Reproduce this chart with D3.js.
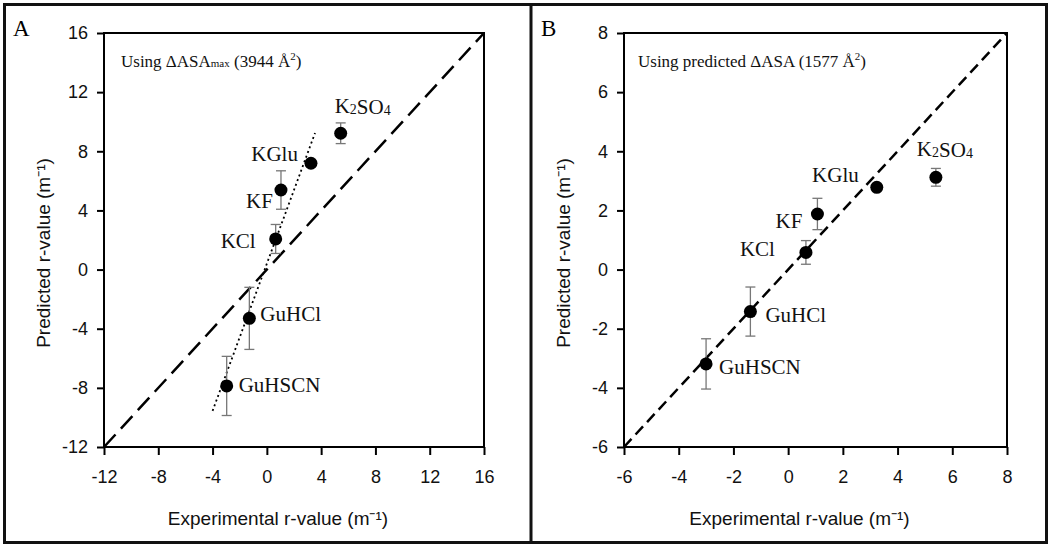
<!DOCTYPE html>
<html>
<head>
<meta charset="utf-8">
<script src="https://cdn.jsdelivr.net/npm/d3@7"></script>
<style>
  html, body { margin: 0; padding: 0; background: #fff; }
  svg { display: block; }
</style>
</head>
<body>
<svg id="chart" width="1050" height="546"></svg>
<script>
// ---------- data ----------
const salts = ["K2SO4", "KGlu", "KF", "KCl", "GuHCl", "GuHSCN"];
// Panel A: Using ΔASAmax (3944 Å²)
const expA  = [5.44, 3.25, 1.04, 0.65, -1.29, -2.96];
const predA = [9.22, 7.19, 5.38, 2.07, -3.30, -7.87];
const errA  = [0.70, 0.00, 1.30, 0.98, 2.10, 2.00];
// dotted regression line in panel A
const fitSlopeA = 2.49;
const fitInterceptA = 0.40;
const fitRangeA = [-4.0, 3.55];
// Panel B: Using predicted ΔASA (1577 Å²)
const expB  = [5.40, 3.24, 1.07, 0.65, -1.38, -3.00];
const predB = [3.12, 2.78, 1.88, 0.58, -1.42, -3.19];
const errB  = [0.30, 0.00, 0.53, 0.40, 0.83, 0.85];
// axes
const domainA = [-12, 16];
const ticksA  = [-12, -8, -4, 0, 4, 8, 12, 16];
const domainB = [-6, 8];
const ticksB  = [-6, -4, -2, 0, 2, 4, 6, 8];
const xTitle = "Experimental r-value (m\u207B\u00B9)";
const yTitle = "Predicted r-value (m\u207B\u00B9)";

// ---------- layout (label offsets relative to points, px) ----------
const labelLayoutA = [
  {dx: -6,  dy: -20, anchor: "start"},
  {dx: -13, dy: -2,  anchor: "end"},
  {dx: -8,  dy: 18,  anchor: "end"},
  {dx: -20, dy: 9,   anchor: "end"},
  {dx: 11,  dy: 3,   anchor: "start"},
  {dx: 12,  dy: 6,   anchor: "start"}
];
const labelLayoutB = [
  {dx: -19, dy: -21, anchor: "start"},
  {dx: -18, dy: -5,  anchor: "end"},
  {dx: -15, dy: 14,  anchor: "end"},
  {dx: -31, dy: 4,   anchor: "end"},
  {dx: 15,  dy: 10,  anchor: "start"},
  {dx: 13,  dy: 10,  anchor: "start"}
];

const svg = d3.select("#chart");
const SANS = "'Liberation Sans', Arial, sans-serif";
const SERIF = "'Liberation Serif', 'Times New Roman', serif";

// outer frame and divider
svg.append("rect").attr("x", 4.5).attr("y", 4.5).attr("width", 1042).attr("height", 538)
  .attr("fill", "none").attr("stroke", "#111").attr("stroke-width", 3);
svg.append("line").attr("x1", 531).attr("x2", 531).attr("y1", 4).attr("y2", 543)
  .attr("stroke", "#111").attr("stroke-width", 3);

function labelText(sel, name) {
  const parts = name.match(/[A-Za-z]+|\d+/g);
  parts.forEach(p => {
    if (/^\d+$/.test(p)) {
      sel.append("tspan").attr("font-size", 14).attr("dy", 1).text(p);
      sel.append("tspan").attr("font-size", 21).attr("dy", -1).text("");
    } else {
      sel.append("tspan").text(p);
    }
  });
}

const fmt = d => String(d);

function panel(cfg) {
  const g = svg.append("g");
  const x = d3.scaleLinear().domain(cfg.domain).range([cfg.left, cfg.right]);
  const y = d3.scaleLinear().domain(cfg.domain).range([cfg.bottom, cfg.top]);

  g.append("text").attr("x", cfg.letterX).attr("y", 36)
    .attr("font-family", SERIF).attr("font-size", 23).text(cfg.letter);

  const xAxis = d3.axisBottom(x).tickValues(cfg.ticks).tickFormat(fmt).tickSize(8).tickSizeOuter(0).tickPadding(15);
  const gx = g.append("g").attr("transform", `translate(0,${cfg.bottom})`).call(xAxis);
  gx.select(".domain").remove();
  gx.selectAll(".tick line").attr("stroke", "#000").attr("stroke-width", 2);
  gx.selectAll(".tick text").attr("font-family", SANS).attr("font-size", 18).attr("fill", "#111");

  const yAxis = d3.axisLeft(y).tickValues(cfg.ticks).tickFormat(fmt).tickSize(7).tickSizeOuter(0).tickPadding(9);
  const gy = g.append("g").attr("transform", `translate(${cfg.left},0)`).call(yAxis);
  gy.select(".domain").remove();
  gy.selectAll(".tick line").attr("stroke", "#000").attr("stroke-width", 2);
  gy.selectAll(".tick text").attr("font-family", SANS).attr("font-size", 18).attr("fill", "#111");

  g.append("rect").attr("x", cfg.left).attr("y", cfg.top)
    .attr("width", cfg.right - cfg.left).attr("height", cfg.bottom - cfg.top)
    .attr("fill", "none").attr("stroke", "#000").attr("stroke-width", 2);

  g.append("text").attr("x", (cfg.left + cfg.right) / 2 - 16).attr("y", 525)
    .attr("text-anchor", "middle").attr("font-family", SANS).attr("font-size", 19)
    .attr("fill", "#111").text(xTitle);
  g.append("text")
    .attr("transform", `translate(${cfg.left - 54},${(cfg.top + cfg.bottom) / 2 + 13}) rotate(-90)`)
    .attr("text-anchor", "middle").attr("font-family", SANS).attr("font-size", 19)
    .attr("fill", "#111").text(yTitle);

  const ann = g.append("text").attr("x", cfg.left + cfg.annDx).attr("y", 67)
    .attr("font-family", SERIF).attr("font-size", 17).attr("fill", "#111");
  ann.append("tspan").text(cfg.annMain);
  if (cfg.annSub) ann.append("tspan").attr("font-size", 11).text(cfg.annSub);
  ann.append("tspan").text(cfg.annRest);
  ann.append("tspan").attr("font-size", 11).attr("dy", -7).text("2");
  ann.append("tspan").attr("dy", 7).text(")");

  g.append("line")
    .attr("x1", x(cfg.domain[0])).attr("y1", y(cfg.domain[0]))
    .attr("x2", x(cfg.domain[1])).attr("y2", y(cfg.domain[1]))
    .attr("stroke", "#000").attr("stroke-width", 2.5).attr("stroke-dasharray", cfg.dash);

  if (cfg.fit) {
    const [a, b] = cfg.fit.range;
    g.append("line")
      .attr("x1", x(a)).attr("y1", y(cfg.fit.slope * a + cfg.fit.intercept))
      .attr("x2", x(b)).attr("y2", y(cfg.fit.slope * b + cfg.fit.intercept))
      .attr("stroke", "#000").attr("stroke-width", 1.8).attr("stroke-dasharray", "2,3");
  }

  const data = salts.map((s, i) => ({name: s, x: cfg.xs[i], y: cfg.ys[i], e: cfg.es[i], lab: cfg.labels[i]}));

  const eb = g.append("g").attr("stroke", "#777").attr("stroke-width", 1.3);
  data.filter(d => d.e > 0).forEach(d => {
    eb.append("line").attr("x1", x(d.x)).attr("x2", x(d.x)).attr("y1", y(d.y - d.e)).attr("y2", y(d.y + d.e));
    eb.append("line").attr("x1", x(d.x) - 5).attr("x2", x(d.x) + 5).attr("y1", y(d.y - d.e)).attr("y2", y(d.y - d.e));
    eb.append("line").attr("x1", x(d.x) - 5).attr("x2", x(d.x) + 5).attr("y1", y(d.y + d.e)).attr("y2", y(d.y + d.e));
  });

  g.selectAll("circle.pt").data(data).join("circle").attr("class", "pt")
    .attr("cx", d => x(d.x)).attr("cy", d => y(d.y)).attr("r", 6.5).attr("fill", "#000");

  data.forEach(d => {
    const t = g.append("text")
      .attr("x", x(d.x) + d.lab.dx).attr("y", y(d.y) + d.lab.dy)
      .attr("text-anchor", d.lab.anchor)
      .attr("font-family", SERIF).attr("font-size", 21).attr("fill", "#111");
    labelText(t, d.name);
  });
}

panel({
  letter: "A", letterX: 13,
  domain: domainA, ticks: ticksA,
  left: 104, right: 484, top: 33, bottom: 447,
  annDx: 17, annMain: "Using \u0394ASA", annSub: "max", annRest: " (3944 \u00C5",
  dash: "17,8",
  fit: {slope: fitSlopeA, intercept: fitInterceptA, range: fitRangeA},
  xs: expA, ys: predA, es: errA, labels: labelLayoutA
});

panel({
  letter: "B", letterX: 541,
  domain: domainB, ticks: ticksB,
  left: 624, right: 1007, top: 33, bottom: 447,
  annDx: 14, annMain: "Using predicted \u0394ASA", annSub: null, annRest: " (1577 \u00C5",
  dash: "11,6",
  fit: null,
  xs: expB, ys: predB, es: errB, labels: labelLayoutB
});
</script>
</body>
</html>
